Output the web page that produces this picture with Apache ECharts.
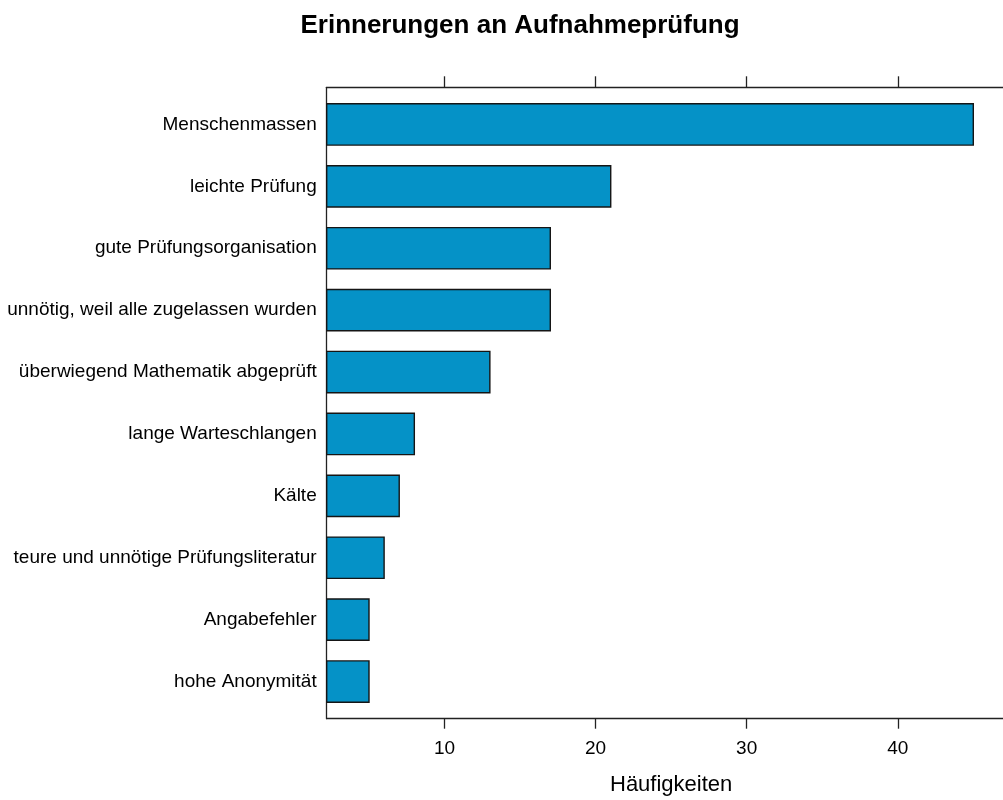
<!DOCTYPE html>
<html>
<head>
<meta charset="utf-8">
<script src="https://cdn.jsdelivr.net/npm/echarts@6/dist/echarts.min.js"></script>
<style>html,body{margin:0;padding:0;background:#fff;}#chart{width:1003px;height:800px;}</style>
</head>
<body>
<div id="chart"></div>
<script>
const titleText = 'Erinnerungen an Aufnahmeprüfung';
const axisTitle = 'Häufigkeiten';
const categories = [
  'Menschenmassen',
  'leichte Prüfung',
  'gute Prüfungsorganisation',
  'unnötig, weil alle zugelassen wurden',
  'überwiegend Mathematik abgeprüft',
  'lange Warteschlangen',
  'Kälte',
  'teure und unnötige Prüfungsliteratur',
  'Angabefehler',
  'hohe Anonymität'
];
const values = [45, 21, 17, 17, 13, 8, 7, 6, 5, 5];
const tickValues = [10, 20, 30, 40];
const axisMin = 2.2;
const axisMax = 47.8;

const FONT = "'Liberation Sans', Arial, Helvetica, sans-serif";
const BOX_RATIO = 2 / 3;
const catPositions = categories.map((c, i) => i + 1);
const seriesData = values.map((v, i) => [v, i + 1]);

const chart = echarts.init(document.getElementById('chart'), null, {renderer: 'canvas'});
const lineStyle = {color: '#222', width: 1.3};
chart.setOption({
  animation: false,
  backgroundColor: '#fff',
  textStyle: {fontFamily: FONT, color: '#000'},
  title: {
    text: titleText,
    left: 520,
    top: 13,
    padding: 0,
    textAlign: 'center',
    textStyle: {fontFamily: FONT, fontSize: 26, fontWeight: 'bold', color: '#000'}
  },
  grid: {left: 326.7, top: 87.3, bottom: 81.3, right: -12.6, containLabel: false,
         outerBoundsMode: 'none', show: false},
  xAxis: [
    {
      type: 'value', position: 'bottom', min: axisMin, max: axisMax,
      splitLine: {show: false},
      axisLine: {show: true, lineStyle: lineStyle},
      axisTick: {show: true, inside: false, length: 10, lineStyle: lineStyle, customValues: tickValues},
      axisLabel: {show: true, margin: 21, fontSize: 19, color: '#000', fontFamily: FONT, customValues: tickValues},
      name: axisTitle, nameLocation: 'middle', nameGap: 55,
      nameTextStyle: {fontSize: 22, color: '#000', fontFamily: FONT}
    },
    {
      type: 'value', position: 'top', min: axisMin, max: axisMax,
      splitLine: {show: false},
      axisLine: {show: true, lineStyle: lineStyle},
      axisTick: {show: true, inside: false, length: 11, lineStyle: lineStyle, customValues: tickValues},
      axisLabel: {show: false}
    }
  ],
  yAxis: {
    type: 'value', min: 0.4, max: 10.6, inverse: true,
    axisLine: {show: true, lineStyle: lineStyle},
    axisTick: {show: false},
    splitLine: {show: false},
    axisLabel: {
      margin: 10, fontSize: 19, color: '#000', fontFamily: FONT,
      customValues: catPositions,
      formatter: (v) => categories[Math.round(v) - 1] || ''
    }
  },
  series: [{
    type: 'custom',
    xAxisIndex: 0,
    data: seriesData,
    encode: {x: 0, y: 1},
    renderItem: (params, api) => {
      const idx = api.value(1);
      const v = api.value(0);
      const start = api.coord([axisMin, idx]);
      const end = api.coord([v, idx]);
      const h = api.size([0, 1])[1] * BOX_RATIO;
      return {
        type: 'rect',
        shape: {x: start[0], y: start[1] - h / 2, width: end[0] - start[0], height: h},
        style: {fill: '#0592C7', stroke: '#151515', lineWidth: 1.4}
      };
    }
  }]
});
</script>
</body>
</html>
